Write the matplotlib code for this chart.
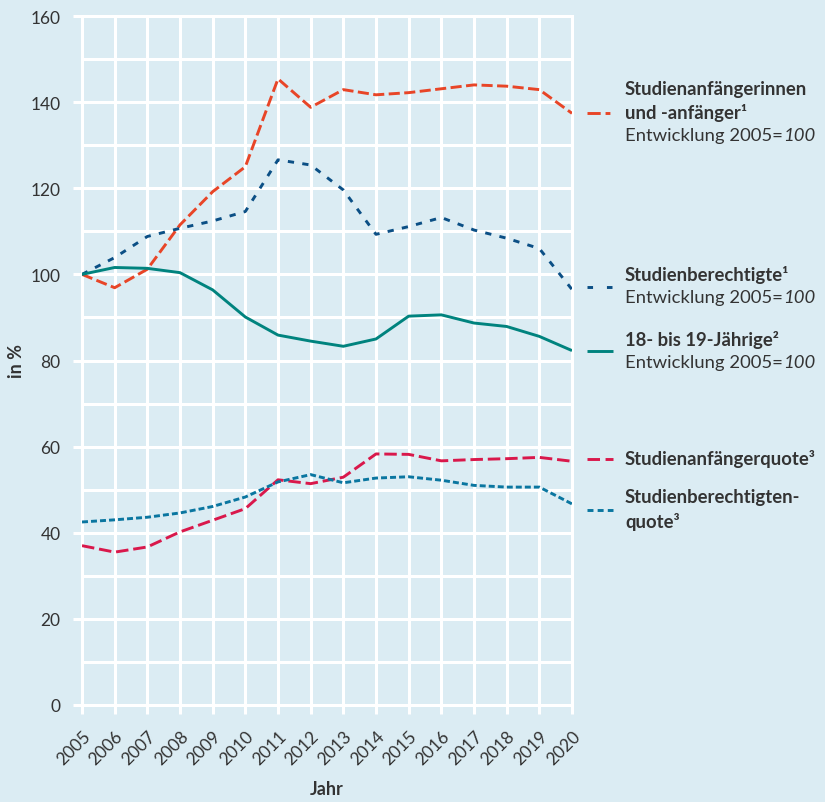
import numpy as np
import matplotlib
matplotlib.use("Agg")
import matplotlib.pyplot as plt
from matplotlib.lines import Line2D

plt.rcParams['font.family'] = ['Lato', 'DejaVu Sans']
plt.rcParams['lines.scale_dashes'] = False

years = list(range(2005, 2021))

anfaenger = [100, 96.9, 101.2, 111.5, 119.2, 125.0, 145.4, 138.8, 142.9,
             141.7, 142.2, 143.1, 144.0, 143.7, 142.9, 137.4]
berechtigte = [100, 103.9, 108.8, 110.7, 112.4, 114.6, 126.6, 125.4, 119.6,
               109.3, 111.1, 113.2, 110.3, 108.4, 106.0, 96.5]
jaehrige = [100, 101.6, 101.4, 100.4, 96.4, 90.1, 85.9, 84.5, 83.3,
            85.0, 90.3, 90.6, 88.7, 87.9, 85.6, 82.3]
anfaengerquote = [37.0, 35.5, 36.7, 40.2, 42.9, 45.6, 52.3, 51.4, 52.9,
                  58.3, 58.2, 56.7, 57.0, 57.2, 57.5, 56.6]
berechtigtenquote = [42.5, 43.0, 43.6, 44.6, 46.1, 48.3, 51.8, 53.5, 51.6,
                     52.7, 53.0, 52.2, 51.0, 50.6, 50.6, 46.7]

bg = '#dbecf3'
c_anf = '#e84527'
c_ber = '#0b4f85'
c_jah = '#00837e'
c_aq = '#d9184b'
c_bq = '#0a76a0'
txt = '#333333'

fig = plt.figure(figsize=(8.25, 8.03), dpi=100, facecolor=bg)
ax = fig.add_axes([82/825, 1-706/803, 490/825, 689/803])
ax.set_facecolor(bg)

styles = [
    (anfaenger, c_anf, (0, (8, 3.2))),
    (berechtigte, c_ber, (0, (4.5, 6))),
    (jaehrige, c_jah, '-'),
    (anfaengerquote, c_aq, (0, (9, 3.5))),
    (berechtigtenquote, c_bq, (0, (4.3, 2.2))),
]
for vals, col, ls in styles:
    ax.plot(years, vals, color=col, linestyle=ls, lw=2.1, zorder=3,
            solid_capstyle='butt', dash_capstyle='butt')

ax.set_xlim(2005, 2020)
ax.set_ylim(0, 160)
ax.set_xticks(years)
ax.set_xticklabels([str(y) for y in years], rotation=45, ha='right', va='top',
                   rotation_mode='anchor', fontsize=12.5, color=txt)
ax.set_yticks(range(0, 161, 20))
ax.set_yticks(range(10, 160, 20), minor=True)
ax.tick_params(axis='y', which='major', colors='white', length=6.5, width=2.2,
               pad=9, labelsize=12.5, labelcolor=txt)
ax.tick_params(axis='y', which='minor', length=0)
ax.tick_params(axis='x', colors='white', length=6.5, width=2.2, pad=10,
               labelcolor=txt)
ax.grid(which='both', color='white', lw=2.2)
ax.set_axisbelow(True)
for s in ax.spines.values():
    s.set_visible(False)
ticks = (ax.xaxis.get_major_ticks() + ax.yaxis.get_major_ticks()
         + ax.yaxis.get_minor_ticks())
for t in ticks:
    t.gridline.set_clip_on(False)

ax.set_ylabel('in %', fontsize=13, fontweight='bold', color=txt)
ax.yaxis.set_label_coords((17 - 82) / 490, 0.5)
ax.yaxis.label.set_va('center')
ax.set_xlabel('Jahr', fontsize=13, fontweight='bold', color=txt)
ax.xaxis.set_label_coords(0.5, -(790 - 706) / 689)
ax.xaxis.label.set_va('center')


def px(x, y):
    return x / 825, 1 - y / 803


def sample(y, col, ls):
    x0, yy = px(587, y)
    x1, _ = px(613, y)
    fig.add_artist(Line2D([x0, x1], [yy, yy], transform=fig.transFigure,
                          color=col, linestyle=ls, lw=2.1,
                          solid_capstyle='butt', dash_capstyle='butt'))


def label(y, s, bold=False):
    x, yy = px(625, y)
    return fig.text(x, yy, s, fontsize=13.3, color=txt, va='center', ha='left',
                    fontweight='bold' if bold else 'normal')


renderer = fig.canvas.get_renderer()


def entwicklung(y):
    t = label(y, 'Entwicklung 2005=')
    bb = t.get_window_extent(renderer=renderer)
    x, yy = px(625, y)
    fig.text(bb.x1 / 825, yy, '100', fontsize=13.3, color=txt, va='center',
             ha='left', style='italic')


sample(114, c_anf, (0, (9.5, 3.5, 3.5, 3.5)))
label(90, 'Studienanfängerinnen', True)
label(113, 'und -anfänger¹', True)
entwicklung(136)

sample(288, c_ber, (0, (4, 10)))
label(275, 'Studienberechtigte¹', True)
entwicklung(298)

sample(352, c_jah, '-')
label(340, '18- bis 19-Jährige²', True)
entwicklung(363)

sample(460, c_aq, (0, (9, 4)))
label(459, 'Studienanfängerquote³', True)

sample(511, c_bq, (0, (4.3, 3)))
label(498, 'Studienberechtigten-', True)
label(522, 'quote³', True)

fig.savefig('out.png', dpi=100, facecolor=bg)
